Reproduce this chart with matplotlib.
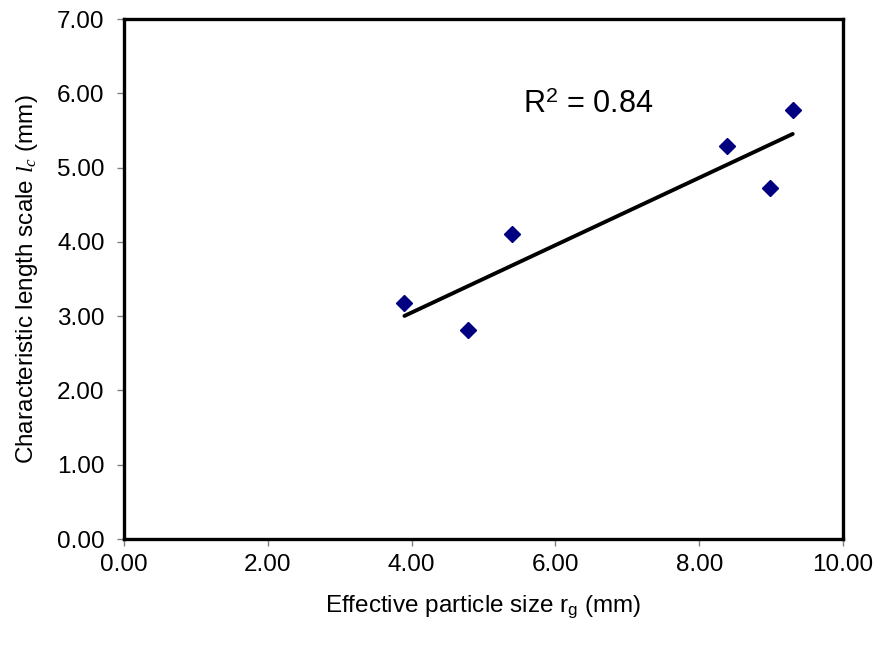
import matplotlib
matplotlib.use("Agg")
import matplotlib.pyplot as plt
import numpy as np
from matplotlib.ticker import FormatStrFormatter

plt.rcParams['font.family'] = ['Liberation Sans', 'DejaVu Sans']
plt.rcParams['mathtext.fontset'] = 'custom'
plt.rcParams['mathtext.rm'] = 'Liberation Sans'
plt.rcParams['mathtext.it'] = 'Liberation Serif:italic'

particle_size = [3.90, 4.79, 5.39, 8.38, 8.99, 9.30]
length_scale = [3.18, 2.81, 4.11, 5.29, 4.73, 5.77]
r2_label = "0.84"

fig = plt.figure(figsize=(8.8, 6.47), dpi=100)
ax = fig.add_axes([0.1409, 0.1669, 0.8171, 0.8037])

x = np.array(particle_size)
y = np.array(length_scale)
coef = np.polyfit(x, y, 1)
xl = np.array([x.min(), x.max()])
ax.plot(xl, np.polyval(coef, xl), color='black', lw=2.8, solid_capstyle='round', zorder=2)
ax.plot(x, y, linestyle='none', marker='D', ms=8, color='#000080', zorder=3)

ax.text(5.55, 5.84, r"R$^{\mathrm{2}}$ = " + r2_label, fontsize=22, va='center', ha='left')

ax.set_xlim(0, 10)
ax.set_ylim(0, 7)
ax.set_xticks(np.arange(0, 10.1, 2))
ax.set_yticks(np.arange(0, 7.1, 1))
ax.xaxis.set_major_formatter(FormatStrFormatter('%.2f'))
ax.yaxis.set_major_formatter(FormatStrFormatter('%.2f'))
ax.tick_params(direction='out', length=5, width=1, color='#808080', labelsize=17.5)
ax.tick_params(axis='x', pad=6)
ax.tick_params(axis='y', pad=9)
for s in ax.spines.values():
    s.set_linewidth(2.4)
    s.set_color('black')

ax.set_xlabel(r"Effective particle size r$_{\mathrm{g}}$ (mm)", fontsize=17.5, labelpad=12)
ax.set_ylabel(r"Characteristic length scale $l_c$ (mm)", fontsize=17.5, labelpad=12)

fig.savefig("out.png", dpi=100, facecolor='white')
